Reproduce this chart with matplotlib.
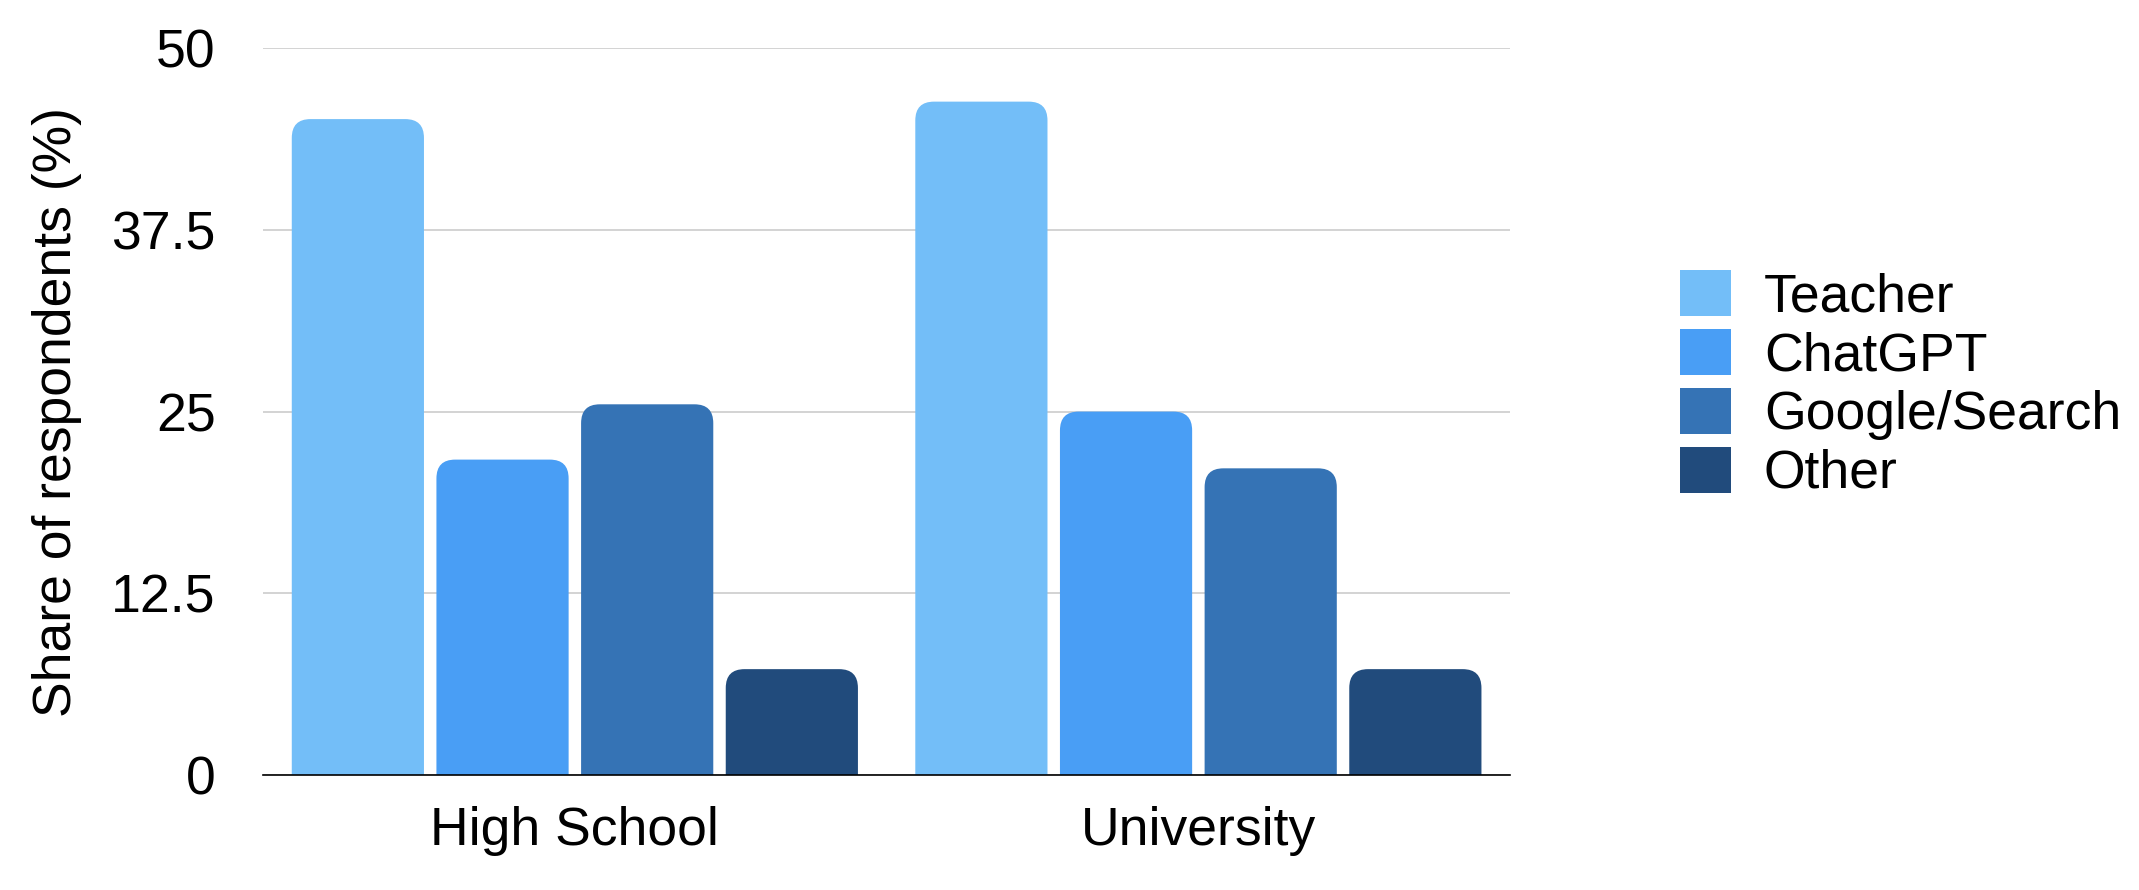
import numpy as np
import matplotlib
matplotlib.use('Agg')
import matplotlib.pyplot as plt
from matplotlib.patches import FancyBboxPatch, Patch

plt.rcParams['font.family'] = ['Liberation Sans', 'DejaVu Sans']

# data
groups = ['High School', 'University']
sources = ['Teacher', 'ChatGPT', 'Google/Search', 'Other']
teacher = [45.1, 46.3]
chatgpt = [21.7, 25.0]
google = [25.5, 21.1]
other = [7.3, 7.3]
yticks = [0, 12.5, 25, 37.5, 50]
ytick_labels = ['0', '12.5', '25', '37.5', '50']

colors = ['#73bef8', '#499ef5', '#3573b5', '#214b7c']
series = [teacher, chatgpt, google, other]

fs = 38.5
fig = plt.figure(figsize=(21.39, 8.9), dpi=100)
ax = fig.add_axes([0.1230, 0.1288, 0.5830, 0.8175])

x = np.arange(len(groups))
pitch = 0.232
width = 0.212
for i, (vals, c) in enumerate(zip(series, colors)):
    for xi, v in zip(x, vals):
        left = xi + (i - 1.5) * pitch - width / 2
        # rounded top, bottom part hidden below y=0
        p = FancyBboxPatch((left, -3), width, v + 3,
                           boxstyle='round,pad=0,rounding_size=0.03',
                           mutation_aspect=43, facecolor=c, edgecolor='none',
                           zorder=3)
        ax.add_patch(p)

ax.set_xlim(-0.5, 1.5)
ax.set_ylim(0, 50)
ax.set_yticks(yticks)
ax.set_yticklabels(ytick_labels)
ax.set_xticks(x)
ax.set_xticklabels(groups)
ax.tick_params(axis='y', length=0, pad=34, labelsize=fs)
ax.tick_params(axis='x', length=0, pad=22, labelsize=fs)
ax.yaxis.grid(True, color='#c8c8c8', linewidth=1.1, zorder=0)
ax.set_axisbelow(True)
for s in ['top', 'right', 'left']:
    ax.spines[s].set_visible(False)
ax.spines['bottom'].set_color('black')
ax.spines['bottom'].set_linewidth(1.2)
ax.spines['bottom'].set_zorder(4)

ax.set_ylabel('Share of respondents (%)', fontsize=fs)
ax.yaxis.set_label_coords(-0.145, 0.5)

handles = [Patch(facecolor=c, edgecolor='none') for c in colors]
fig.legend(handles, sources, loc='center left', bbox_to_anchor=(0.7854, 0.568),
           frameon=False, fontsize=fs, handlelength=0.95, handleheight=0.95,
           handletextpad=0.62, labelspacing=0.12, borderpad=0, borderaxespad=0)

fig.savefig('out.png', dpi=100, facecolor='white')
